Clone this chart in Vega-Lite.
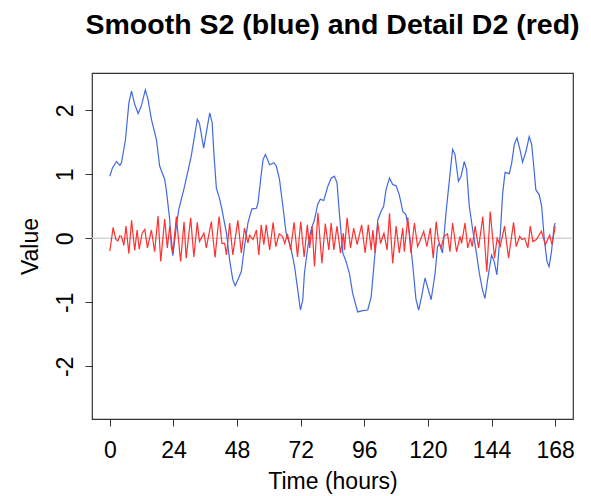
{
  "$schema": "https://vega.github.io/schema/vega-lite/v6.json",
  "autosize": "none",
  "width": 481,
  "height": 346,
  "padding": {"left": 92, "top": 73, "right": 18, "bottom": 77},
  "background": "white",
  "config": {
    "font": "Liberation Sans",
    "view": {"stroke": "#333333", "strokeWidth": 1.2},
    "axis": {"grid": false, "domain": false, "tickColor": "#333333", "tickSize": 7, "labelFontSize": 23, "labelColor": "black", "titleFontSize": 23, "titleFontWeight": "normal", "titleColor": "black"}
  },
  "title": {"text": "Smooth S2 (blue) and Detail D2 (red)", "fontSize": 28.5, "fontWeight": "bold", "color": "black", "anchor": "middle", "frame": "group", "baseline": "alphabetic", "offset": 11},
  "datasets": {
    "s2": [
      {"t":0,"v":0.97},{"t":1,"v":1.1},{"t":2.5,"v":1.2},{"t":3.8,"v":1.14},{"t":4.4,"v":1.18},{"t":5.9,"v":1.54},{"t":7.2,"v":2.12},{"t":8.2,"v":2.3},{"t":9.4,"v":2.09},{"t":10.7,"v":1.95},{"t":11.9,"v":2.07},{"t":13.4,"v":2.32},{"t":14.4,"v":2.17},{"t":15.7,"v":1.86},{"t":17.6,"v":1.54},{"t":18.8,"v":1.13},{"t":20.7,"v":0.92},{"t":21.3,"v":0.76},{"t":22.6,"v":0.29},{"t":23.2,"v":-0.13},{"t":23.8,"v":-0.27},{"t":25.1,"v":0.19},{"t":26,"v":0.45},{"t":28.2,"v":0.81},{"t":30.7,"v":1.28},{"t":33,"v":1.86},{"t":33.8,"v":1.8},{"t":35.4,"v":1.41},{"t":36.4,"v":1.65},{"t":37.7,"v":1.96},{"t":38.6,"v":1.81},{"t":39.3,"v":1.3},{"t":40.2,"v":0.78},{"t":41.4,"v":0.62},{"t":42.3,"v":0.45},{"t":44,"v":0.08},{"t":45.2,"v":-0.34},{"t":46.4,"v":-0.65},{"t":47.3,"v":-0.74},{"t":48.6,"v":-0.62},{"t":49.6,"v":-0.52},{"t":50.8,"v":-0.13},{"t":52.1,"v":0.24},{"t":53.6,"v":0.46},{"t":55.3,"v":0.47},{"t":55.9,"v":0.55},{"t":56.9,"v":0.92},{"t":57.8,"v":1.23},{"t":58.7,"v":1.31},{"t":60.3,"v":1.15},{"t":61.9,"v":1.18},{"t":62.8,"v":1.13},{"t":64,"v":0.92},{"t":65.3,"v":0.5},{"t":66.5,"v":0.08},{"t":68.2,"v":-0.13},{"t":69.7,"v":-0.44},{"t":70.9,"v":-0.81},{"t":71.9,"v":-1.12},{"t":72.8,"v":-0.96},{"t":73.4,"v":-0.55},{"t":74.7,"v":-0.13},{"t":75.9,"v":0.13},{"t":77.2,"v":0.29},{"t":78.4,"v":0.53},{"t":79.4,"v":0.61},{"t":80.7,"v":0.59},{"t":82.2,"v":0.81},{"t":83.5,"v":0.94},{"t":84.7,"v":0.97},{"t":85.7,"v":0.87},{"t":86.6,"v":0.39},{"t":87.9,"v":-0.23},{"t":89.1,"v":-0.36},{"t":90.4,"v":-0.55},{"t":91.6,"v":-0.86},{"t":93.5,"v":-1.15},{"t":95.4,"v":-1.13},{"t":97.3,"v":-1.12},{"t":98.6,"v":-0.91},{"t":99.8,"v":-0.34},{"t":101.1,"v":0.29},{"t":102.3,"v":0.42},{"t":103.3,"v":0.5},{"t":104.2,"v":0.76},{"t":105.5,"v":0.94},{"t":106.7,"v":0.84},{"t":108,"v":0.82},{"t":109.2,"v":0.68},{"t":110.5,"v":0.42},{"t":111.7,"v":0.37},{"t":113,"v":0.08},{"t":114.2,"v":-0.39},{"t":115.5,"v":-0.96},{"t":116.5,"v":-1.12},{"t":117.6,"v":-0.91},{"t":118.9,"v":-0.62},{"t":120.2,"v":-0.81},{"t":121.2,"v":-0.96},{"t":122.7,"v":-0.55},{"t":123.6,"v":-0.13},{"t":124.3,"v":-0.08},{"t":125.5,"v":-0.23},{"t":126.8,"v":0.39},{"t":128.1,"v":0.92},{"t":129.3,"v":1.39},{"t":130.2,"v":1.31},{"t":131.5,"v":0.89},{"t":132.5,"v":0.97},{"t":133.7,"v":1.2},{"t":134.6,"v":1.07},{"t":135.6,"v":0.5},{"t":136.9,"v":0.13},{"t":138.1,"v":-0.18},{"t":139.4,"v":-0.55},{"t":140.6,"v":-0.81},{"t":141.5,"v":-0.94},{"t":142.5,"v":-0.65},{"t":144,"v":-0.26},{"t":145,"v":-0.36},{"t":146,"v":-0.57},{"t":147.3,"v":0.08},{"t":148.2,"v":0.71},{"t":149.1,"v":1.03},{"t":150.7,"v":1.01},{"t":151.6,"v":1.18},{"t":152.6,"v":1.47},{"t":153.6,"v":1.57},{"t":154.7,"v":1.39},{"t":155.7,"v":1.19},{"t":157,"v":1.36},{"t":158.2,"v":1.59},{"t":159.1,"v":1.47},{"t":159.8,"v":1.18},{"t":160.7,"v":0.76},{"t":162,"v":0.68},{"t":162.9,"v":0.5},{"t":163.9,"v":-0.02},{"t":164.9,"v":-0.36},{"t":165.7,"v":-0.44},{"t":166.6,"v":-0.21},{"t":167.6,"v":0.19},{"t":168,"v":0.24}
    ],
    "d2": [
      {"t":0,"v":-0.2},{"t":1.25,"v":0.17},{"t":2.3,"v":-0.02},{"t":3.1,"v":-0.04},{"t":3.7,"v":0.04},{"t":4.4,"v":0.03},{"t":5.3,"v":-0.11},{"t":6.1,"v":0.19},{"t":7.2,"v":-0.24},{"t":8.2,"v":0.28},{"t":9.4,"v":-0.19},{"t":10.3,"v":0.13},{"t":11.1,"v":-0.17},{"t":12.2,"v":0.08},{"t":13.2,"v":0.14},{"t":14.2,"v":-0.15},{"t":15.7,"v":0.13},{"t":16.9,"v":-0.21},{"t":18.2,"v":0.35},{"t":19.2,"v":-0.36},{"t":20.7,"v":0.3},{"t":21.7,"v":-0.15},{"t":22.6,"v":0.19},{"t":23.8,"v":-0.23},{"t":25.1,"v":0.34},{"t":26.7,"v":-0.36},{"t":28,"v":0.26},{"t":28.8,"v":-0.31},{"t":30.5,"v":0.32},{"t":31.7,"v":-0.29},{"t":33,"v":0.25},{"t":33.8,"v":-0.05},{"t":35.5,"v":0.08},{"t":36.4,"v":-0.15},{"t":38.3,"v":0.26},{"t":39.7,"v":-0.3},{"t":41.2,"v":0.34},{"t":42.3,"v":-0.08},{"t":43.3,"v":-0.08},{"t":44,"v":-0.26},{"t":45.2,"v":0.24},{"t":46.4,"v":-0.26},{"t":48.3,"v":0.28},{"t":49.6,"v":-0.23},{"t":50.8,"v":0.16},{"t":52.1,"v":-0.07},{"t":52.7,"v":0.05},{"t":54,"v":-0.02},{"t":55.3,"v":0.13},{"t":56.2,"v":-0.26},{"t":57.1,"v":0.21},{"t":58.1,"v":-0.1},{"t":59,"v":0.21},{"t":60.3,"v":-0.18},{"t":61.6,"v":0.25},{"t":62.6,"v":-0.13},{"t":63.9,"v":0.07},{"t":65.1,"v":0.03},{"t":66,"v":-0.08},{"t":67,"v":0.07},{"t":68.2,"v":-0.18},{"t":69.5,"v":0.25},{"t":70.8,"v":-0.29},{"t":72,"v":0.26},{"t":73.3,"v":-0.29},{"t":74.5,"v":0.21},{"t":75.4,"v":-0.15},{"t":76.3,"v":0.19},{"t":77.2,"v":-0.44},{"t":78.5,"v":0.4},{"t":80,"v":-0.39},{"t":81.3,"v":0.23},{"t":82.6,"v":-0.18},{"t":83.5,"v":0.24},{"t":84.5,"v":-0.18},{"t":85.7,"v":0.19},{"t":87,"v":-0.23},{"t":88.1,"v":0.08},{"t":88.5,"v":-0.18},{"t":89.5,"v":0.32},{"t":90.8,"v":-0.15},{"t":92,"v":0.16},{"t":93.3,"v":-0.1},{"t":95,"v":0.21},{"t":96.3,"v":-0.23},{"t":97.5,"v":0.21},{"t":98.6,"v":-0.18},{"t":99.2,"v":0.13},{"t":100.1,"v":-0.23},{"t":101.1,"v":0.24},{"t":102.1,"v":-0.08},{"t":103.4,"v":0.08},{"t":104.6,"v":-0.18},{"t":105.5,"v":0.39},{"t":106.7,"v":-0.39},{"t":108,"v":0.19},{"t":109.2,"v":-0.23},{"t":110.5,"v":0.16},{"t":111.1,"v":-0.21},{"t":112.4,"v":0.33},{"t":113.6,"v":-0.23},{"t":114.9,"v":0.24},{"t":116.1,"v":-0.13},{"t":117.4,"v":0},{"t":118.4,"v":0.11},{"t":119.6,"v":-0.13},{"t":120.9,"v":0.16},{"t":122,"v":-0.31},{"t":123.1,"v":0.26},{"t":123.9,"v":-0.02},{"t":124.9,"v":-0.15},{"t":126.1,"v":0.03},{"t":127.4,"v":0.07},{"t":128.3,"v":-0.21},{"t":129.3,"v":0.24},{"t":130.8,"v":-0.21},{"t":132.1,"v":0.03},{"t":132.7,"v":-0.08},{"t":134,"v":0.24},{"t":135,"v":-0.15},{"t":136,"v":0},{"t":136.7,"v":-0.13},{"t":137.8,"v":0.19},{"t":139.1,"v":-0.15},{"t":140.7,"v":0.34},{"t":142.2,"v":-0.52},{"t":143.5,"v":0.42},{"t":145.1,"v":-0.31},{"t":146.1,"v":0},{"t":147.3,"v":-0.12},{"t":148.9,"v":0.19},{"t":150.4,"v":-0.31},{"t":152.3,"v":0.25},{"t":153.3,"v":-0.13},{"t":154.6,"v":0.03},{"t":155.5,"v":-0.02},{"t":156.5,"v":0},{"t":157.7,"v":-0.15},{"t":158.6,"v":0.19},{"t":159.6,"v":-0.05},{"t":160.9,"v":-0.02},{"t":162.8,"v":0.11},{"t":164.3,"v":-0.1},{"t":165.9,"v":0.05},{"t":166.8,"v":-0.1},{"t":168,"v":0.19}
    ],
    "zero": [{"v": 0}]
  },
  "encoding": {
    "x": {"field": "t", "type": "quantitative", "scale": {"domain": [-6.72, 174.72], "nice": false, "zero": false},
      "axis": {"values": [0, 24, 48, 72, 96, 120, 144, 168], "title": "Time (hours)", "labelPadding": 13, "titlePadding": 8}},
    "y": {"field": "v", "type": "quantitative", "scale": {"domain": [-2.823, 2.583], "nice": false, "zero": false},
      "axis": {"values": [-2, -1, 0, 1, 2], "title": "Value", "labelExpr": "datum.value < 0 ? '-' + abs(datum.value) : '' + datum.value", "labelAngle": -90, "labelAlign": "center", "labelBaseline": "bottom", "labelPadding": 8, "titlePadding": 12}}
  },
  "layer": [
    {"data": {"name": "zero"}, "mark": {"type": "rule", "color": "#d3d3d3", "strokeWidth": 1.5}, "encoding": {"y": {"field": "v", "type": "quantitative"}, "x": null}},
    {"data": {"name": "s2"}, "mark": {"type": "line", "color": "#4169e1", "strokeWidth": 1.2}},
    {"data": {"name": "d2"}, "mark": {"type": "line", "color": "#ff3030", "strokeWidth": 1.2}}
  ]
}
